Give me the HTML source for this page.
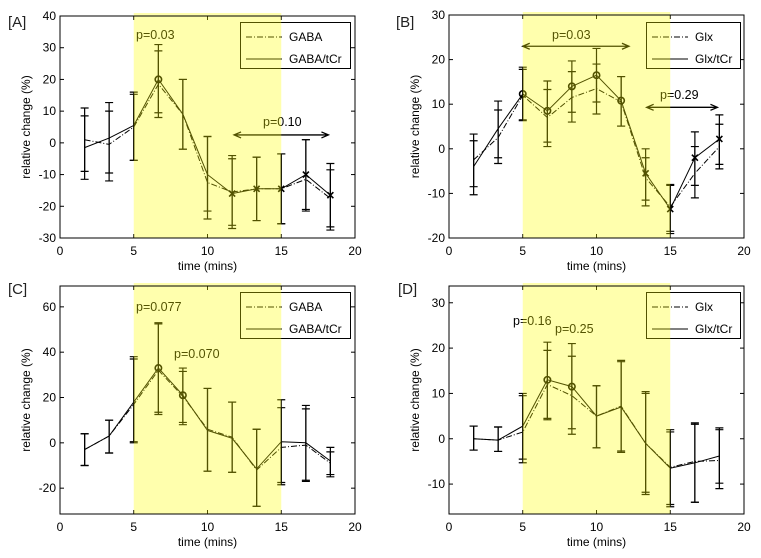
<!DOCTYPE html>
<html><head><meta charset="utf-8">
<style>
html,body{margin:0;padding:0;background:#fff;}
svg{display:block;font-family:"Liberation Sans",Arial,sans-serif;}
</style></head>
<body>
<svg id="fig" width="761" height="558" viewBox="0 0 761 558"></svg>
<script>
// shared x categories (time, mins)
const times = [1.67, 3.33, 5, 6.67, 8.33, 10, 11.67, 13.33, 15, 16.67, 18.33];
const xTicks = [0, 5, 10, 15, 20];

// Panel A
const aRatio = [-1.5, 1.5, 5.5, 20, 9, -10, -16, -14.5, -14.5, -10, -16.5];
const aRatioHi = [11, 12.7, 16, 31, 20, 2, -4, -4.5, -3.5, 1, -6.5];
const aRatioLo = [-11.5, -12, -5.5, 8, -2, -24, -27, -24.5, -25.5, -21.5, -27.5];
const aRaw = [1, -0.5, 5, 18.5, 9, -12.5, -15.5, -14.5, -14.5, -11.5, -17.5];
const aRawHi = [8.5, 10, 15.3, 29, 20, 2, -5, -4.5, -3.5, 1, -8.5];
const aRawLo = [-9, -9.5, -5.5, 9.5, -2, -21.5, -26, -24.5, -25.5, -21, -26.5];
const aYTicks = [-30, -20, -10, 0, 10, 20, 30, 40];

// Panel B
const bRatio = [-4, 4.5, 12.3, 8.5, 14, 16.5, 10.8, -5.5, -13.5, -2, 2.2];
const bRatioHi = [3.3, 10.7, 18.3, 15.2, 19.7, 22.5, 16.2, 0, -8, 3.8, 7.6];
const bRatioLo = [-10.3, -3.3, 6.5, 0.5, 6, 7.8, 5.1, -12.8, -18.5, -11, -4.5];
const bRaw = [-2.5, 2.5, 12, 7, 11.5, 13.5, 10.5, -6.5, -13, -5.5, 0.5];
const bRawHi = [1.8, 8.7, 17.8, 13.3, 17.3, 19, 16.2, -2, -8.2, 0.5, 5.5];
const bRawLo = [-8.5, -2, 6.3, 1.5, 8.2, 10.5, 5.1, -11.5, -19, -8.2, -3.5];
const bYTicks = [-20, -10, 0, 10, 20, 30];

// Panel C
const cRatio = [-3, 3, 18, 33, 21, 5.5, 2, -11.5, 0.5, 0, -8];
const cRatioHi = [4, 10, 38, 53, 33, 24, 18, 6, 19, 16.5, -2];
const cRatioLo = [-10, -4.5, 0.5, 12.5, 8, -12.5, -13, -28, -18.5, -16.5, -15];
const cRaw = [-3, 3, 17, 32, 20.5, 6, 2.5, -12, -2, -1, -9];
const cRawHi = [4, 10, 37, 52.5, 31.5, 24, 18, 6, 15.5, 15, -4];
const cRawLo = [-10, -4.5, 0, 13.5, 9, -12.5, -13, -28, -17.5, -17, -14];
const cYTicks = [-20, 0, 20, 40, 60];

// Panel D
const dRatio = [0, -0.3, 2.8, 13, 11.5, 5, 7, -1, -6.5, -5.3, -3.8];
const dRatioHi = [2.8, 2.6, 10, 21.3, 21, 11.7, 17.3, 10.4, 2, 3.5, 2.4];
const dRatioLo = [-2.5, -2.8, -5.3, 4.2, 1, -2, -3, -12.3, -15, -14, -11];
const dRaw = [0, -0.3, 1.5, 12, 9.5, 5, 7.2, -1, -6.3, -5, -4.8];
const dRawHi = [2.8, 2.6, 9.5, 19.5, 18.2, 11.7, 17, 10, 1.5, 3.2, 2];
const dRawLo = [-2.5, -2.8, -4.5, 4.5, 2.2, -2, -2.7, -11.8, -14.5, -14, -9.8];
const dYTicks = [-10, 0, 10, 20, 30];

const NS = "http://www.w3.org/2000/svg";
const svg = document.getElementById('fig');
function mk(tag, attrs, parent){
  const e = document.createElementNS(NS, tag);
  for (const k in attrs) e.setAttribute(k, attrs[k]);
  (parent||svg).appendChild(e);
  return e;
}

function panel(cfg){
  const g = mk('g', {});
  
  
  const L=cfg.box[0], T=cfg.box[1], R=cfg.box[2], B=cfg.box[3];
  const xs = v => L + (v - 0) / 20 * (R - L);
  const ys = v => B - (v - cfg.ymin) / (cfg.ymax - cfg.ymin) * (B - T);

  // ticks
  xTicks.forEach(t => {
    const x = xs(t);
    mk('line', {x1:x, y1:B, x2:x, y2:B-4, stroke:'#000'}, g);
    mk('line', {x1:x, y1:T, x2:x, y2:T+4, stroke:'#000'}, g);
    const tx = mk('text', {x:x, y:B+17, 'font-size':12, 'text-anchor':'middle', fill:'#000'}, g);
    tx.textContent = t;
    
    
  });
  cfg.yTicks.forEach(t => {
    const y = ys(t);
    mk('line', {x1:L, y1:y, x2:L+4, y2:y, stroke:'#000'}, g);
    mk('line', {x1:R, y1:y, x2:R-4, y2:y, stroke:'#000'}, g);
    const tx = mk('text', {x:L-4, y:y+4, 'font-size':12, 'text-anchor':'end', fill:'#000'}, g);
    tx.textContent = t;
    
    
  });

  function series(vals, hi, lo, dash, name){
    const sg = mk('g', {}, g);
    
    
    const pts = times.map((t,i)=> xs(t).toFixed(1)+','+ys(vals[i]).toFixed(1)).join(' ');
    const pl = mk('polyline', {points:pts, fill:'none', stroke:'#000', 'stroke-width':1, 'stroke-dasharray':dash||'none'}, sg);
    
    
    times.forEach((t,i)=>{
      const x = xs(t);
      const eb = mk('path', {d:`M${x},${ys(hi[i])}V${ys(lo[i])}M${x-4},${ys(hi[i])}H${x+4}M${x-4},${ys(lo[i])}H${x+4}`, stroke:'#000', fill:'none', 'stroke-width':1.2}, sg);
      
      
    });
  }
  series(cfg.raw, cfg.rawHi, cfg.rawLo, '6,2,1,2', 'raw-series');
  series(cfg.ratio, cfg.ratioHi, cfg.ratioLo, null, 'ratio-series');

  // markers
  cfg.circles.forEach(i=>{
    const c = mk('circle', {cx:xs(times[i]), cy:ys(cfg.ratio[i]), r:3.2, fill:'none', stroke:'#000', 'stroke-width':1.6}, g);
    
    
  });
  cfg.crosses.forEach(i=>{
    const x = xs(times[i]), y = ys(cfg.ratio[i]);
    const c = mk('path', {d:`M${x-3},${y-3}L${x+3},${y+3}M${x-3},${y+3}L${x+3},${y-3}`, stroke:'#000', 'stroke-width':1.6}, g);
    
    
  });

  // arrows & p labels
  cfg.arrows.forEach(a=>{
    const x1 = xs(a[0]), x2 = xs(a[1]), y = ys(a[2]);
    const ar = mk('path', {d:`M${x1},${y}H${x2}M${x1+7},${y-3}L${x1},${y}L${x1+7},${y+3}M${x2-7},${y-3}L${x2},${y}L${x2-7},${y+3}`, stroke:'#000', fill:'none', 'stroke-width':1.3}, g);
    
    
  });
  cfg.plabels.forEach(p=>{
    const t = mk('text', {x:p[0], y:p[1], 'font-size':12.5, fill:'#000'}, g);
    t.textContent = p[2];
    
    
  });

  // legend
  const lg = mk('g', {}, g);
  
  
  const [lx1, ly1, lx2, ly2] = cfg.legend;
  mk('rect', {x:lx1+0.5, y:ly1+0.5, width:lx2-lx1, height:ly2-ly1, fill:'none', stroke:'#000'}, lg);
  [[cfg.names[0], '6,2,1,2', ly1+15], [cfg.names[1], null, ly1+37]].forEach(e=>{
    const eg = mk('g', {}, lg);
    
    
    mk('line', {x1:lx1+6, y1:e[2], x2:lx1+42, y2:e[2], stroke:'#000', 'stroke-dasharray':e[1]||'none'}, eg);
    const t = mk('text', {x:lx1+49, y:e[2]+4, 'font-size':12, fill:'#000'}, eg);
    t.textContent = e[0];
  });

  // shaded stimulus window (translucent over lines)
  const sh = mk('rect', {x:xs(5), y:T-3, width:xs(15)-xs(5), height:B-T+3, fill:'#ffff00', 'fill-opacity':0.32}, g);
  
  

  // frame
  mk('rect', {x:L, y:T, width:R-L, height:B-T, fill:'none', stroke:'#000'}, g);

  // axis titles
  const yl = mk('text', {x:0, y:0, 'font-size':12, 'text-anchor':'middle', fill:'#000', transform:`translate(${L-30},${(T+B)/2}) rotate(-90)`}, g);
  yl.textContent = 'relative change (%)';
  
  
  const xl = mk('text', {x:(L+R)/2, y:B+32, 'font-size':12, 'text-anchor':'middle', fill:'#000'}, g);
  xl.textContent = 'time (mins)';
  
  
  const pl = mk('text', {x:cfg.tag[0], y:cfg.tag[1], 'font-size':15, fill:'#222'}, g);
  pl.textContent = '[' + cfg.id + ']';
  
  
}

panel({id:'A', box:[60,16,355,238], ymin:-30, ymax:40, yTicks:aYTicks,
  ratio:aRatio, ratioHi:aRatioHi, ratioLo:aRatioLo, raw:aRaw, rawHi:aRawHi, rawLo:aRawLo,
  circles:[3], crosses:[6,7,8,9,10], arrows:[[11.8,18.2,2.5]],
  plabels:[[136,39,'p=0.03'],[263,126,'p=0.10']],
  legend:[240,22,350,68], names:['GABA','GABA/tCr'], tag:[8,27]});
panel({id:'B', box:[449,15,744,238], ymin:-20, ymax:30, yTicks:bYTicks,
  ratio:bRatio, ratioHi:bRatioHi, ratioLo:bRatioLo, raw:bRaw, rawHi:bRawHi, rawLo:bRawLo,
  circles:[2,3,4,5,6], crosses:[7,8,9,10], arrows:[[5,12.2,23],[13.4,18.2,9.3]],
  plabels:[[552,39,'p=0.03'],[660,99,'p=0.29']],
  legend:[646,22,740,68], names:['Glx','Glx/tCr'], tag:[396,27]});
panel({id:'C', box:[60,286,355,514], ymin:-31.4, ymax:69.2, yTicks:cYTicks,
  ratio:cRatio, ratioHi:cRatioHi, ratioLo:cRatioLo, raw:cRaw, rawHi:cRawHi, rawLo:cRawLo,
  circles:[3,4], crosses:[], arrows:[],
  plabels:[[136,311,'p=0.077'],[174,358,'p=0.070']],
  legend:[240,292,350,338], names:['GABA','GABA/tCr'], tag:[8,294]});
panel({id:'D', box:[449,286,744,514], ymin:-16.6, ymax:33.7, yTicks:dYTicks,
  ratio:dRatio, ratioHi:dRatioHi, ratioLo:dRatioLo, raw:dRaw, rawHi:dRawHi, rawLo:dRawLo,
  circles:[3,4], crosses:[], arrows:[],
  plabels:[[513,325,'p=0.16'],[555,333,'p=0.25']],
  legend:[646,292,740,338], names:['Glx','Glx/tCr'], tag:[398,294]});
</script>
</body></html>
